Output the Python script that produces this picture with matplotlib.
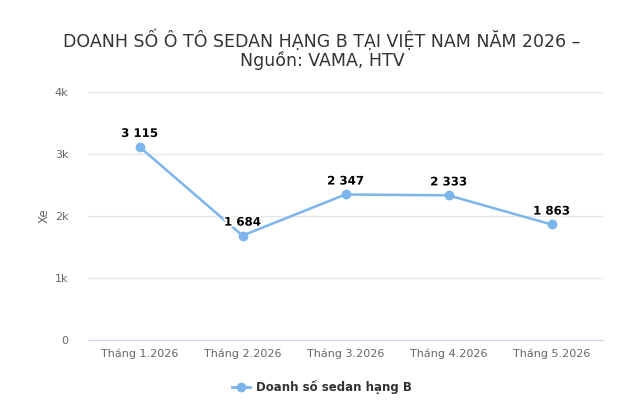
import matplotlib.pyplot as plt
import matplotlib.patheffects as pe
from matplotlib.lines import Line2D

months = ["Tháng 1.2026", "Tháng 2.2026", "Tháng 3.2026", "Tháng 4.2026", "Tháng 5.2026"]
sales = [3115, 1684, 2347, 2333, 1863]
y_ticks = [0, 1000, 2000, 3000, 4000]
y_labels = ["0", "1k", "2k", "3k", "4k"]

line_color = "#7cb5ec"

fig = plt.figure(figsize=(6.44, 4.08), dpi=100)
ax = fig.add_axes([88 / 644, 1 - 340 / 408, 515 / 644, 248 / 408])

x = list(range(len(months)))
ax.plot(x, sales, color=line_color, lw=1.8, marker="o", ms=6, zorder=3)

# nhãn số liệu
for xi, v in zip(x, sales):
    label = f"{v:,}".replace(",", " ")
    ax.annotate(label, (xi, v), xytext=(0, 5), textcoords="offset points",
                ha="center", va="bottom", fontsize=8.5, fontweight="bold", color="black",
                path_effects=[pe.withStroke(linewidth=2.5, foreground="white")], zorder=4)

ax.set_xlim(-0.5, 4.5)
ax.set_ylim(0, 4000)
ax.set_xticks(x)
ax.set_xticklabels(months)
ax.set_yticks(y_ticks)
ax.set_yticklabels(y_labels)
ax.tick_params(axis="both", length=0, colors="#666666", labelsize=8)
ax.tick_params(axis="y", pad=14)
ax.tick_params(axis="x", pad=6)
ax.grid(axis="y", color="#e6e6e6", lw=1)
ax.set_axisbelow(True)
for s in ["top", "right", "left"]:
    ax.spines[s].set_visible(False)
ax.spines["bottom"].set_color("#ccd6eb")
ax.set_ylabel("Xe", color="#666666", fontsize=8.5, labelpad=3)

fig.text(0.5, 1 - 40 / 408, "DOANH SỐ Ô TÔ SEDAN HẠNG B TẠI VIỆT NAM NĂM 2026 –",
         ha="center", va="center", fontsize=12.5, color="#333333")
fig.text(0.5, 1 - 61 / 408, "Nguồn: VAMA, HTV",
         ha="center", va="center", fontsize=12.5, color="#333333")

handle = Line2D([], [], color=line_color, lw=2, marker="o", ms=6)
fig.legend([handle], ["Doanh số sedan hạng B"], loc="center", bbox_to_anchor=(0.5, 1 - 387 / 408),
           frameon=False, prop={"size": 8.5, "weight": "bold"}, labelcolor="#333333",
           handlelength=1.5, handletextpad=0.5)

fig.savefig("out.png", dpi=100)
